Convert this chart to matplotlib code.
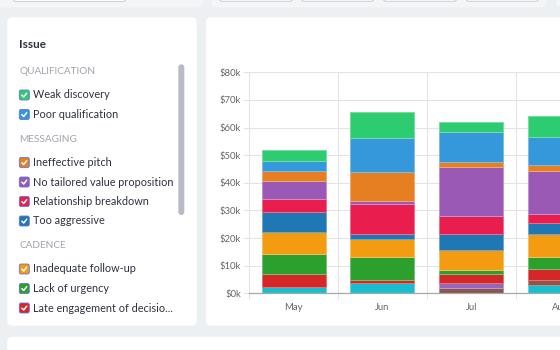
import matplotlib
matplotlib.use("Agg")
import matplotlib.pyplot as plt
from matplotlib.patches import FancyBboxPatch
from matplotlib.ticker import FuncFormatter, FixedLocator
import numpy as np

plt.rcParams['font.family'] = ['Lato', 'DejaVu Sans']

# ---- data (values in $k) ----
months = ['May', 'Jun', 'Jul', 'Aug']

# stacked bottom -> top
issues = ['Hidden issue 3', 'Hidden issue 2', 'Hidden issue 1',
          'Late engagement of decision-makers', 'Lack of urgency', 'Inadequate follow-up',
          'Too aggressive', 'Relationship breakdown', 'No tailored value proposition',
          'Ineffective pitch', 'Poor qualification', 'Weak discovery']
colors = ['#17becf', '#8c564b', '#9467bd',
          '#d62728', '#2ca02c', '#f39c12',
          '#1f77b4', '#e91e4f', '#9b59b6',
          '#e67e22', '#3498db', '#2ecc71']
values = [
    [2.4, 3.6, 0.0, 3.0],
    [0.0, 0.0, 1.8, 1.8],
    [0.0, 0.0, 1.8, 0.0],
    [4.7, 1.2, 3.5, 4.1],
    [7.2, 8.2, 1.3, 4.1],
    [7.9, 6.8, 7.2, 8.6],
    [7.1, 1.8, 6.0, 3.7],
    [4.8, 10.8, 6.5, 3.5],
    [6.5, 1.1, 17.5, 15.6],
    [3.8, 10.5, 1.8, 1.9],
    [3.6, 12.3, 10.9, 10.2],
    [3.7, 9.2, 3.6, 7.8],
]

# left panel list
sections = [('QUALIFICATION', ['Weak discovery', 'Poor qualification']),
            ('MESSAGING', ['Ineffective pitch', 'No tailored value proposition',
                           'Relationship breakdown', 'Too aggressive']),
            ('CADENCE', ['Inadequate follow-up', 'Lack of urgency',
                         'Late engagement of decisio...'])]
list_colors = ['#2ecc71', '#3498db', '#e67e22', '#9b59b6', '#e91e4f', '#1f77b4',
               '#f39c12', '#2ca02c', '#d62728']

W, H = 560, 350
bg = '#edf0f3'
fig = plt.figure(figsize=(W / 100, H / 100), dpi=100)
fig.patch.set_facecolor(bg)

bax = fig.add_axes([0, 0, 1, 1])
bax.set_xlim(0, W)
bax.set_ylim(H, 0)
bax.axis('off')


def card(x0, y0, x1, y1, fc='white', ec='none', r=5, lw=0):
    p = FancyBboxPatch((x0, y0), x1 - x0, y1 - y0,
                       boxstyle='round,pad=0,rounding_size=%g' % r,
                       fc=fc, ec=ec, lw=lw)
    bax.add_patch(p)


# top strip
card(-10, -10, 203, 7.3, fc='#f4f5f7')
card(13, -10, 126, 1.5, fc='white', ec='#cfd2d7', lw=0.8, r=3)
card(211.7, -10, 546.7, 7.3, fc='#f4f5f7')
for bx0, bx1 in [(219, 293), (301, 374), (383, 457), (466, 539)]:
    card(bx0, -10, bx1, 1.3, fc='white', ec='#cfd2d7', lw=0.8, r=3)
card(556, -10, 600, 7.3, fc='#f4f5f7')

# cards
card(7.3, 17.3, 196.7, 325.7)
card(206, 17.3, 620, 325.7)
card(7.3, 336.7, 620, 400)

# left panel
bax.text(19, 44, 'Issue', fontsize=8.5, fontweight='bold', color='#2d3142',
         va='center', ha='left')
y = 72
ci = 0
for title, items in sections:
    bax.text(19, y, title, fontsize=7.2, color='#a0a4ab', va='center', ha='left')
    y += 23
    for it in items:
        c = list_colors[ci]
        ci += 1
        card(19.3, y - 5, 29.3, y + 5, fc=c, ec='#6673d9', lw=0.6, r=1.8)
        bax.plot([21.9, 23.7, 26.7], [y + 0.2, y + 2.0, y - 1.8], color='white',
                 lw=1.1, solid_capstyle='round', solid_joinstyle='round')
        bax.text(33, y, it, fontsize=7.8, color='#2d3142', va='center', ha='left')
        y += 19.5
    y += 5.5

# scrollbar
card(178.3, 64.3, 184.3, 215, fc='#b8bac5', r=3)

# ---- chart ----
x0, x1, y0, y1 = 249.3, 560.0, 293.3, 72.3
ax = fig.add_axes([x0 / W, 1 - y0 / H, (x1 - x0) / W, (y0 - y1) / H])
ax.set_facecolor('none')

x = np.arange(len(months))
bottom = np.zeros(len(months))
for name, col, vals in zip(issues, colors, values):
    vals = np.array(vals) * 1000
    rgb = np.array(matplotlib.colors.to_rgb(col))
    edge = rgb + (1 - rgb) * 0.35
    ax.bar(x, vals, width=0.72, bottom=bottom, color=col, edgecolor=edge,
           linewidth=0.7, zorder=3, label=name)
    bottom += vals

ax.set_xlim(-0.5, 2.5 + (x1 - 519.3) / 90)
ax.set_ylim(0, 80000)
ax.yaxis.set_major_locator(FixedLocator(np.arange(0, 80001, 10000)))
ax.yaxis.set_major_formatter(FuncFormatter(lambda v, p: '$%dk' % (v / 1000)))
ax.set_xticks(x)
ax.set_xticklabels(months)
ax.xaxis.set_minor_locator(FixedLocator([-0.5, 0.5, 1.5, 2.5]))

gc = '#e4e4e4'
ax.grid(axis='y', which='major', color=gc, lw=0.8, zorder=0)
ax.grid(axis='x', which='minor', color=gc, lw=0.8, zorder=0)
ax.tick_params(axis='y', length=4.3, width=0.8, color=gc, labelsize=6.8,
               labelcolor='#666666', pad=1.5)
ax.tick_params(axis='x', which='major', length=0, labelsize=6.8,
               labelcolor='#666666', pad=7)
ax.tick_params(axis='x', which='minor', length=4, width=0.8, color=gc)
for s in ['top', 'right']:
    ax.spines[s].set_visible(False)
ax.spines['left'].set_color(gc)
ax.spines['left'].set_linewidth(0.8)
ax.spines['bottom'].set_color('#a8a8a8')
ax.spines['bottom'].set_linewidth(0.9)
ax.spines['bottom'].set_zorder(4)

fig.savefig('out.png', dpi=100, facecolor=bg)
